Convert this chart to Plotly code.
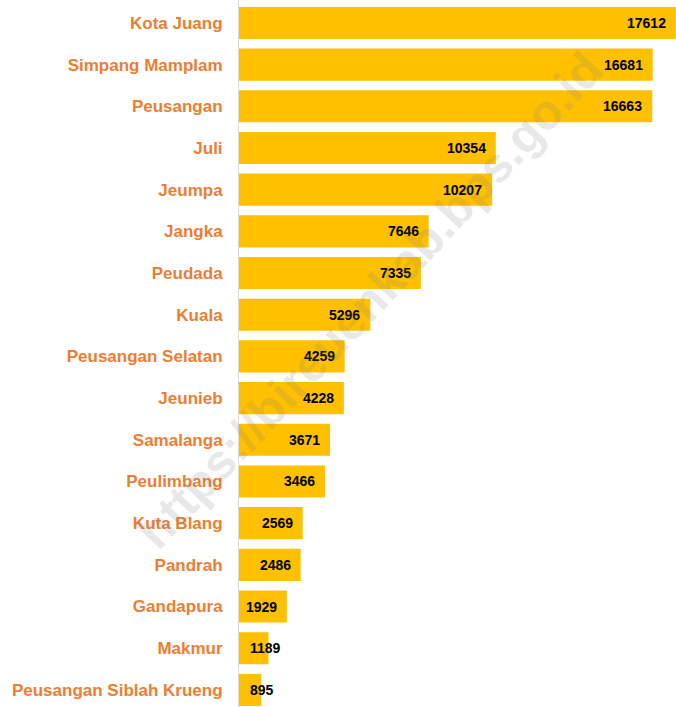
import plotly.graph_objects as go

districts = ["Kota Juang", "Simpang Mamplam", "Peusangan", "Juli", "Jeumpa", "Jangka",
             "Peudada", "Kuala", "Peusangan Selatan", "Jeunieb", "Samalanga", "Peulimbang",
             "Kuta Blang", "Pandrah", "Gandapura", "Makmur", "Peusangan Siblah Krueng"]
values = [17612, 16681, 16663, 10354, 10207, 7646, 7335, 5296, 4259, 4228, 3671, 3466,
          2569, 2486, 1929, 1189, 895]

BAR_COLOR = "#FFC000"
LABEL_COLOR = "#ED7D31"
X_MAX = 17620
L_MARGIN = 239
W, H = 676, 707

fig = go.Figure(go.Bar(
    x=values, y=districts, orientation="h",
    marker=dict(color=BAR_COLOR, line=dict(width=0)),
    width=0.77, hoverinfo="skip",
))

px_per_unit = (W - L_MARGIN) / X_MAX
annotations = []
for d, v in zip(districts, values):
    fits = v * px_per_unit > 45
    annotations.append(dict(
        x=v if fits else 0, y=d, xref="x", yref="y",
        text=f"<b>{v}</b>", showarrow=False,
        xanchor="right" if fits else "left",
        xshift=-8 if fits else 9,
        font=dict(family="Liberation Sans, Arial", size=14, color="#000000"),
    ))

annotations.append(dict(
    x=0.30, y=0.575, xref="paper", yref="paper", xanchor="center", yanchor="middle",
    text="<b>https://bireuenkab.bps.go.id</b>",
    showarrow=False, textangle=-47,
    font=dict(family="Liberation Sans, Arial", size=49, color="rgba(128,128,128,0.18)"),
))

fig.update_layout(
    width=W, height=H,
    margin=dict(l=L_MARGIN, r=0, t=0, b=0),
    paper_bgcolor="white", plot_bgcolor="white",
    showlegend=False,
    annotations=annotations,
    xaxis=dict(range=[0, X_MAX], visible=False, fixedrange=True),
    yaxis=dict(
        categoryorder="array", categoryarray=districts,
        range=[16.41, -0.55], fixedrange=True,
        showline=True, linecolor="#D9D9D9", linewidth=1,
        showgrid=False, zeroline=False, ticks="",
        ticklabelstandoff=12,
        tickfont=dict(family="Liberation Sans, Arial", size=17, color=LABEL_COLOR, weight="bold"),
    ),
)

fig.write_html("out.html", config={"displayModeBar": False},
               post_script="document.body.style.margin='0';")
